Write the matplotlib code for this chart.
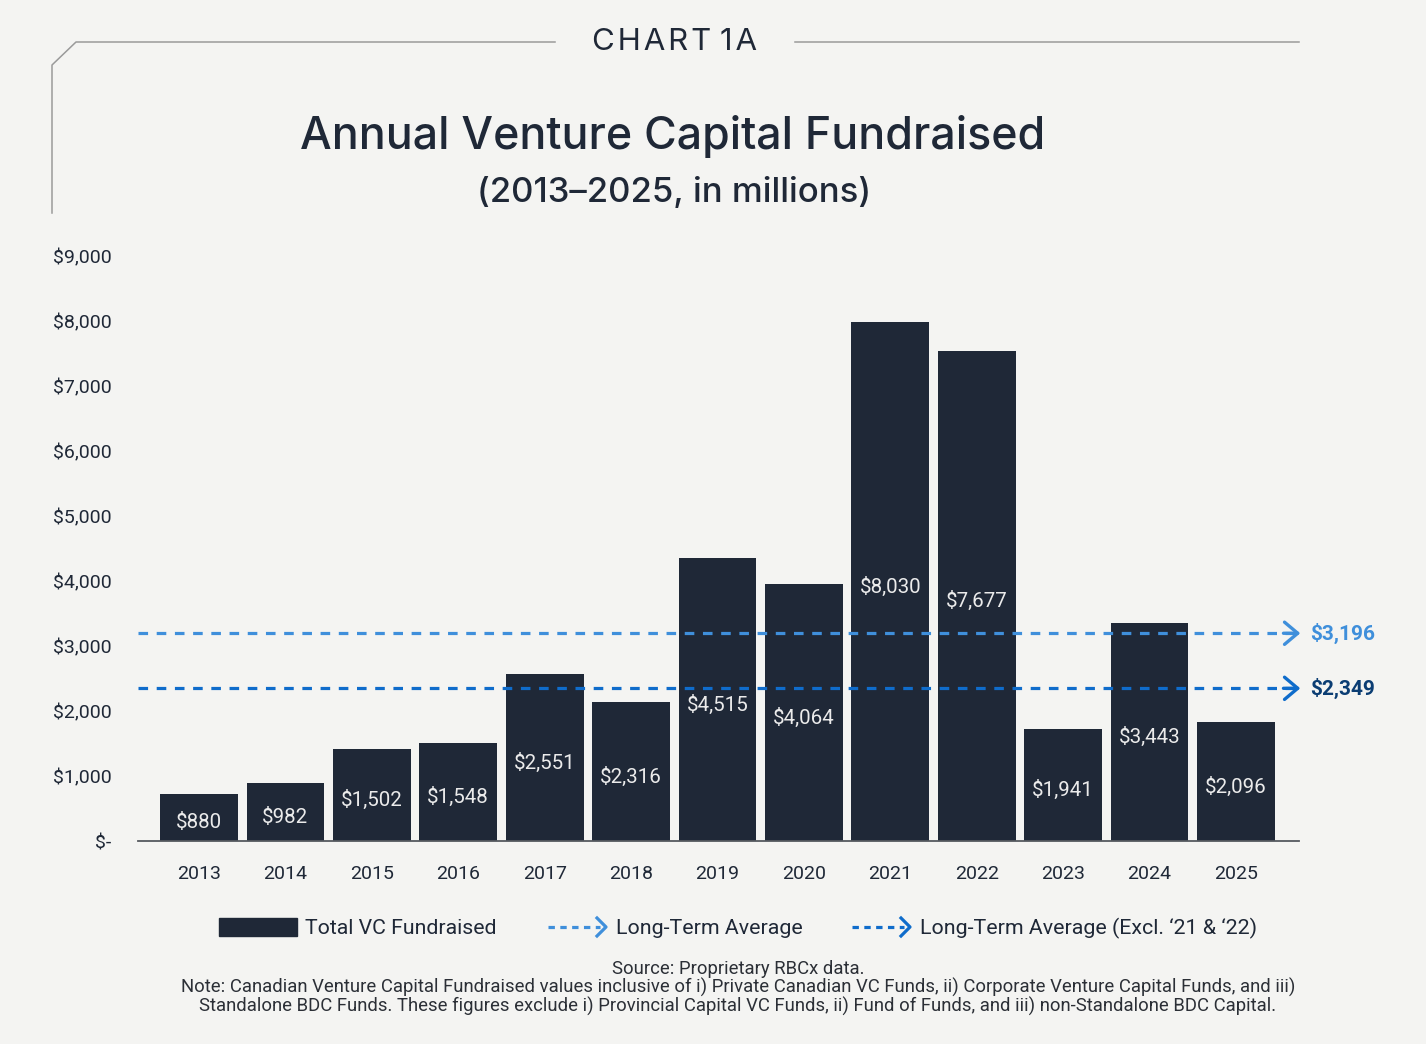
import matplotlib
matplotlib.use("Agg")
import matplotlib.pyplot as plt
from matplotlib.lines import Line2D
from matplotlib.patches import Rectangle

# data
years = ["2013", "2014", "2015", "2016", "2017", "2018", "2019",
         "2020", "2021", "2022", "2023", "2024", "2025"]
bar_heights = [723, 892, 1415, 1508, 2569, 2138, 4354,
               3954, 7985, 7538, 1723, 3354, 1831]
bar_labels = ["$880", "$982", "$1,502", "$1,548", "$2,551", "$2,316", "$4,515",
              "$4,064", "$8,030", "$7,677", "$1,941", "$3,443", "$2,096"]
avg_all = 3196
avg_excl = 2349
y_ticks = [0, 1000, 2000, 3000, 4000, 5000, 6000, 7000, 8000, 9000]
y_tick_labels = ["$-", "$1,000", "$2,000", "$3,000", "$4,000", "$5,000",
                 "$6,000", "$7,000", "$8,000", "$9,000"]

BG = "#f4f4f2"
NAVY = "#1f2837"
LIGHT_BLUE = "#3f8fdb"
MID_BLUE = "#0f6ccb"
DARK_BLUE = "#0b3d73"
GREY = "#9a9a9a"

plt.rcParams["font.family"] = ["Roboto", "DejaVu Sans"]

fig = plt.figure(figsize=(14.26, 10.44), dpi=100, facecolor=BG)
W, H = 1426, 1044


def fx(px):
    return px / W


def fy(py):
    return 1 - py / H


ax = fig.add_axes([fx(138), fy(841), fx(1299) - fx(138), fy(256) - fy(841)])
ax.set_facecolor(BG)

x = list(range(len(years)))
ax.bar(x, bar_heights, width=0.9, color=NAVY, zorder=2)
for xi, h, lab in zip(x, bar_heights, bar_labels):
    ax.text(xi, h / 2 - 80, lab, ha="center", va="center", color="#ebebeb",
            fontsize=14.8, zorder=4)

ax.set_xlim(-0.706, 12.73)
ax.set_ylim(0, 9000)
ax.set_xticks(x)
ax.set_xticklabels(years, fontsize=14, color=NAVY)
ax.set_yticks(y_ticks)
ax.set_yticklabels(y_tick_labels, fontsize=14, color=NAVY)
ax.tick_params(axis="x", length=0, pad=17)
ax.tick_params(axis="y", length=0, pad=19)
for side in ["top", "right", "left"]:
    ax.spines[side].set_visible(False)
ax.spines["bottom"].set_color("#55595f")
ax.spines["bottom"].set_linewidth(1.3)
ax.spines["bottom"].set_zorder(3)

# average lines with arrow heads
for val, col, txtcol in [(avg_all, LIGHT_BLUE, LIGHT_BLUE), (avg_excl, MID_BLUE, DARK_BLUE)]:
    ax.plot([-0.706, 12.70], [val, val], color=col, lw=2.3,
            dashes=(3.0, 2.7), zorder=3, clip_on=False)
    ax.annotate("", xy=(12.745, val), xytext=(12.55, val),
                arrowprops=dict(arrowstyle="->,head_length=0.95,head_width=0.8",
                                color=col, lw=2.4, shrinkA=0, shrinkB=0),
                annotation_clip=False, zorder=3)
    ax.text(12.86, val, "${:,}".format(val), color=txtcol, fontsize=15,
            fontweight="bold", ha="left", va="center", clip_on=False)

# frame decoration
fig.add_artist(Line2D([fx(555), fx(76), fx(52), fx(52)],
                      [fy(42), fy(42), fy(65), fy(213)], color=GREY, lw=1.1))
fig.add_artist(Line2D([fx(795), fx(1299)], [fy(42), fy(42)], color=GREY, lw=1.1))

fig.text(fx(675), fy(42), "C H A R T  1 A".replace(" ", "\u200a").replace("\u200a\u200a", " "),
         ha="center", va="center", fontsize=22.5, color=NAVY, family=["Inter", "DejaVu Sans"])
fig.text(fx(673), fy(137), "Annual Venture Capital Fundraised", ha="center",
         va="center", fontsize=32.2, color=NAVY, family=["Inter", "DejaVu Sans"],
         fontweight="medium")
fig.text(fx(674), fy(193), "(2013\u20132025, in millions)", ha="center",
         va="center", fontsize=25, color=NAVY, family=["Inter", "DejaVu Sans"],
         fontweight="medium")

# legend
fig.add_artist(Rectangle((fx(219), fy(936)), fx(78), fy(918) - fy(936),
                         color=NAVY, transform=fig.transFigure))
fig.text(fx(305), fy(928), "Total VC Fundraised", ha="left", va="center",
         fontsize=15.3, color=NAVY)
for x0, col, label in [(548, LIGHT_BLUE, "Long-Term Average"),
                       (852, MID_BLUE, "Long-Term Average (Excl. \u201821 & \u201822)")]:
    fig.add_artist(Line2D([fx(x0), fx(x0 + 52)], [fy(927), fy(927)], color=col,
                          lw=2.3, dashes=(2.0, 1.7)))
    fig.add_artist(Line2D([fx(x0 + 49), fx(x0 + 58), fx(x0 + 49)],
                          [fy(918), fy(927), fy(936)], color=col, lw=2.3))
    fig.text(fx(x0 + 68), fy(928), label, ha="left", va="center", fontsize=15.4,
             color=NAVY)

fig.text(fx(738), fy(969), "Source: Proprietary RBCx data.", ha="center",
         va="center", fontsize=13.3, color="#2b2f36")
fig.text(fx(738), fy(997),
         "Note: Canadian Venture Capital Fundraised values inclusive of i) Private Canadian VC Funds, "
         "ii) Corporate Venture Capital Funds, and iii)\nStandalone BDC Funds. These figures exclude "
         "i) Provincial Capital VC Funds, ii) Fund of Funds, and iii) non-Standalone BDC Capital.",
         ha="center", va="center", fontsize=13.3, color="#2b2f36", linespacing=0.98)

fig.savefig("out.png", dpi=100, facecolor=BG)
